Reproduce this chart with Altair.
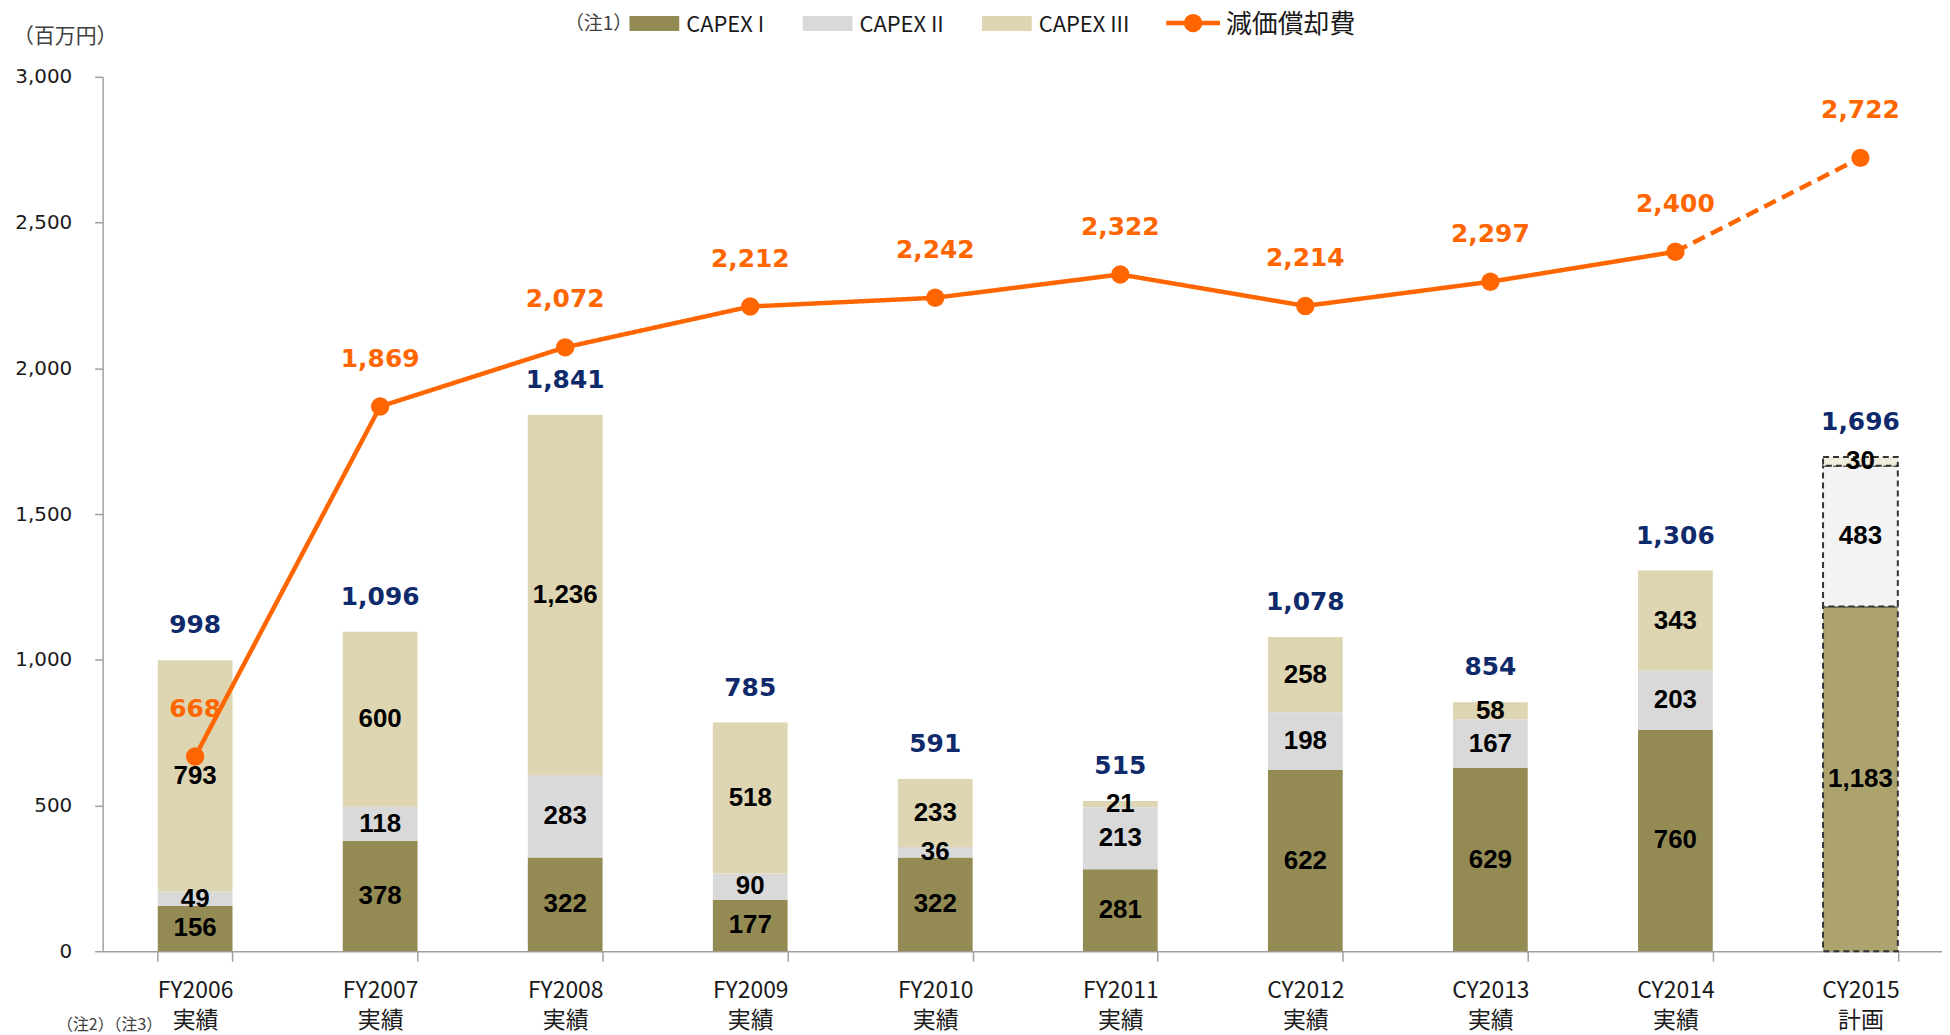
import altair as alt
import pandas as pd

# ---- data ----
years = ["FY2006", "FY2007", "FY2008", "FY2009", "FY2010", "FY2011",
         "CY2012", "CY2013", "CY2014", "CY2015"]
status = ["実績"] * 9 + ["計画"]
capex1 = [156, 378, 322, 177, 322, 281, 622, 629, 760, 1183]
capex2 = [49, 118, 283, 90, 36, 213, 198, 167, 203, 483]
capex3 = [793, 600, 1236, 518, 233, 21, 258, 58, 343, 30]
totals = [998, 1096, 1841, 785, 591, 515, 1078, 854, 1306, 1696]
depreciation = [668, 1869, 2072, 2212, 2242, 2322, 2214, 2297, 2400, 2722]
series_names = ["CAPEX I", "CAPEX II", "CAPEX III"]
y_ticks = [0, 500, 1000, 1500, 2000, 2500, 3000]

labels = [f"{y}\n{s}" for y, s in zip(years, status)]
plan_flags = [s == "計画" for s in status]

rows = []
for i, lab in enumerate(labels):
    for k, (name, vals) in enumerate(zip(series_names, [capex1, capex2, capex3])):
        rows.append({"label": lab, "series": name, "order": k, "value": vals[i],
                     "plan": plan_flags[i],
                     "key": name + (" 計画" if plan_flags[i] else "")})
bar_df = pd.DataFrame(rows)
tot_df = pd.DataFrame({"label": labels, "total": totals})

line_rows = []
for i, lab in enumerate(labels):
    if i <= 8:
        line_rows.append({"label": lab, "dep": depreciation[i], "seg": "solid"})
    if i >= 8:
        line_rows.append({"label": lab, "dep": depreciation[i], "seg": "plan"})
line_df = pd.DataFrame(line_rows)
pt_df = pd.DataFrame({"label": labels, "dep": depreciation})

ORANGE = "#FF6600"
NAVY = "#0E2A6B"
AXIS_GRAY = "#A0A0A0"
color_domain = ["CAPEX I", "CAPEX II", "CAPEX III", "CAPEX I 計画", "CAPEX II 計画", "CAPEX III 計画"]
color_range = ["#948A54", "#D9D9D9", "#DED5B2", "#ADA36E", "#F3F3F3", "#EFEBDD"]

x_scale = alt.Scale(rangeMin=0, rangeMax=1858, paddingInner=0.596, paddingOuter=0.298)
x_enc = alt.X(
    "label:N", sort=labels, title=None, scale=x_scale,
    axis=alt.Axis(
        labelExpr="split(datum.label, '\\n')",
        labelFont="Noto Sans CJK JP", labelFontSize=23, labelColor="#1a1a1a",
        labelLineHeight=31, labelAngle=0, labelBaseline="top", labelPadding=18,
        tickBand="extent", tickSize=10, tickColor=AXIS_GRAY, tickWidth=1.5,
        domainColor=AXIS_GRAY, domainWidth=1.5,
    ),
)
x_plain = alt.X("label:N", sort=labels, scale=x_scale)
y_scale = alt.Scale(domain=[0, 3000], nice=False)
y_axis = alt.Axis(
    values=y_ticks, format=",d", labelFont="DejaVu Sans", labelFontSize=20,
    labelColor="#1a1a1a", labelPadding=23, tickSize=8, tickColor=AXIS_GRAY,
    tickWidth=1.5, domainColor=AXIS_GRAY, domainWidth=1.5,
    title="（百万円）", titleAngle=0, titleX=-38, titleY=-40,
    titleAlign="center", titleBaseline="middle", titleFont="Noto Sans CJK JP",
    titleFontSize=21, titleFontWeight="normal", titleColor="#404040",
)

stacked = alt.Chart(bar_df).transform_stack(
    stack="value", groupby=["label"], as_=["v0", "v1"],
    sort=[alt.SortField("order", order="ascending")],
).transform_calculate(mid="(datum.v0 + datum.v1) / 2")

bars_actual = stacked.transform_filter("!datum.plan").mark_bar().encode(
    x=x_enc,
    y=alt.Y("v0:Q", scale=y_scale, axis=y_axis),
    y2="v1:Q",
    color=alt.Color("key:N", scale=alt.Scale(domain=color_domain, range=color_range), legend=None),
)
bars_plan = stacked.transform_filter("datum.plan").mark_bar(
    stroke="#333333", strokeDash=[6, 4], strokeWidth=2
).encode(
    x=x_plain,
    y=alt.Y("v0:Q"),
    y2="v1:Q",
    color=alt.Color("key:N", scale=alt.Scale(domain=color_domain, range=color_range), legend=None),
)
seg_text = stacked.mark_text(
    font="Liberation Sans", fontWeight="bold", fontSize=26, color="#000000", baseline="middle"
).encode(
    x=x_plain,
    y=alt.Y("mid:Q"),
    text=alt.Text("value:Q", format=","),
)
tot_text = alt.Chart(tot_df).mark_text(
    font="DejaVu Sans", fontWeight="bold", fontSize=25, color=NAVY, baseline="middle", dy=-35
).encode(
    x=x_plain,
    y=alt.Y("total:Q"),
    text=alt.Text("total:Q", format=","),
)
dep_line = alt.Chart(line_df).mark_line(color=ORANGE, strokeWidth=4.5).encode(
    x=x_plain,
    y=alt.Y("dep:Q"),
    detail="seg:N",
    strokeDash=alt.StrokeDash("seg:N", scale=alt.Scale(domain=["solid", "plan"], range=[[1, 0], [13, 7]]), legend=None),
)
dep_pts = alt.Chart(pt_df).mark_circle(color=ORANGE, size=340, opacity=1).encode(
    x=x_plain,
    y=alt.Y("dep:Q"),
)
dep_text = alt.Chart(pt_df).mark_text(
    font="DejaVu Sans", fontWeight="bold", fontSize=25, color=ORANGE, baseline="middle", dy=-48
).encode(
    x=x_plain,
    y=alt.Y("dep:Q"),
    text=alt.Text("dep:Q", format=","),
)

# ---- legend / notes (fixed positions relative to the plot area) ----
one = pd.DataFrame({"a": [0]})
def txt(s, x, y, size, color="#1a1a1a", font="Noto Sans CJK JP", align="left"):
    return alt.Chart(one).mark_text(
        text=s, font=font, fontSize=size, color=color, align=align, baseline="middle"
    ).encode(x=alt.value(x), y=alt.value(y))
def swatch(color, x, w=50, y=-61, h=15):
    return alt.Chart(one).mark_rect(color=color).encode(
        x=alt.value(x), x2=alt.value(x + w), y=alt.value(y), y2=alt.value(y + h))

legend = [
    txt("（注1）", 498, -53, 19, color="#404040", align="center"),
    swatch(color_range[0], 529), txt("CAPEX I", 586, -52, 22),
    swatch(color_range[1], 703), txt("CAPEX II", 760, -52, 22),
    swatch(color_range[2], 883), txt("CAPEX III", 940, -52, 22),
    alt.Chart(one).mark_rule(color=ORANGE, strokeWidth=4.5).encode(
        x=alt.value(1068), x2=alt.value(1122), y=alt.value(-54)),
    alt.Chart(one).mark_circle(color=ORANGE, size=340, opacity=1).encode(
        x=alt.value(1095), y=alt.value(-54)),
    txt("減価償却費", 1128, -52, 26),
    txt("（注2）（注3）", 7, 952, 16, color="#404040", align="center"),
]

chart = alt.layer(
    bars_actual, bars_plan, seg_text, tot_text, dep_line, dep_pts, dep_text, *legend
).properties(
    width=1847, height=878,
    padding={"left": 95, "top": 67, "right": 0, "bottom": 84},
    autosize=alt.AutoSizeParams(type="none"),
).configure_view(stroke=None).configure_axis(grid=False)

chart.save("out.html", embed_options={"renderer": "svg", "actions": False})
